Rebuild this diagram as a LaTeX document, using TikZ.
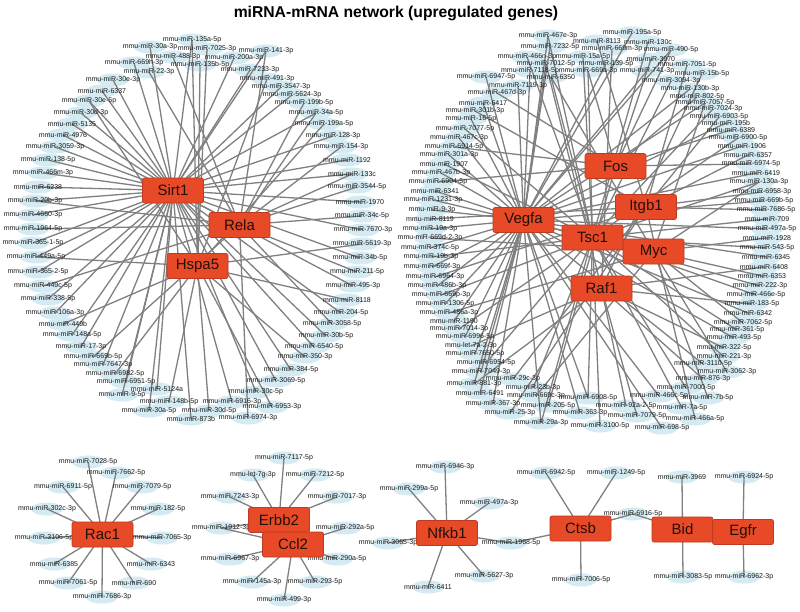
\documentclass[tikz,border=0pt]{standalone}
\usepackage{fontspec}
\setmainfont{Liberation Sans}
\pgfdeclarelayer{bg}
\pgfdeclarelayer{blobs}
\pgfdeclarelayer{edges}
\pgfsetlayers{bg,blobs,edges,main}
\definecolor{hubred}{RGB}{232,74,40}
\definecolor{edgegray}{RGB}{128,128,128}
\definecolor{blobblue}{RGB}{212,235,243}
\definecolor{labeltext}{RGB}{25,25,25}
\definecolor{hubtext}{RGB}{35,15,10}
\begin{document}
\begin{tikzpicture}[x=1pt,y=-1pt,
  mi/.style={font=\fontsize{7}{8}\selectfont, text=labeltext, inner sep=0pt},
  hub/.style={rectangle, rounded corners=2pt, fill=hubred, draw=hubred!80!black, line width=0.6pt,
    minimum width=61pt, minimum height=25pt, inner sep=0pt, font=\fontsize{15}{15}\selectfont, text=hubtext},
  edge/.style={draw=edgegray, line width=1.3pt},
  blob/.style={fill=blobblue}]
\begin{pgfonlayer}{bg}\fill[white] (0,0) rectangle (800,611);\end{pgfonlayer}
\useasboundingbox (0,0) rectangle (800,611);

\node[font=\bfseries\fontsize{15.7}{16}\selectfont, text=black] (title) at (396,13) {miRNA-mRNA network (upregulated genes)};

% ---------- miRNA labels ----------
\foreach \n/\x/\y/\t in {
L1/192/40/mmu-miR-135a-5p, L2/150/47/mmu-miR-30a-3p, L3/207/49/mmu-miR-7025-3p, L4/266/51/mmu-miR-141-3p,
L5/173/57/mmu-miR-488-3p, L6/234/58/mmu-miR-200a-3p, L7/134/63/mmu-miR-669h-3p, L8/200/65/mmu-miR-135b-5p,
L9/149/72/mmu-miR-22-3p, L10/250/70/mmu-miR-7233-3p, L11/113/80/mmu-miR-30e-3p, L12/267/79/mmu-miR-491-3p,
L13/281/87/mmu-miR-3547-3p, L14/102/91/mmu-miR-6337, L15/292/95/mmu-miR-5624-3p, L16/89/101/mmu-miR-30e-5p,
L17/304/103/mmu-miR-199b-5p, L18/81/113/mmu-miR-30d-3p, L19/316/113/mmu-miR-34a-5p, L20/72/124/mmu-miR-5135,
L21/324/124/mmu-miR-199a-5p, L22/63/135/mmu-miR-4976, L23/333/136/mmu-miR-128-3p, L24/55/147/mmu-miR-3059-3p,
L25/341/147/mmu-miR-154-3p, L26/48/160/mmu-miR-138-5p, L27/43/173/mmu-miR-466m-3p, L28/38/187/mmu-miR-6238,
L29/35/201/mmu-miR-20b-3p, L30/33/215/mmu-miR-4660-3p, L31/33/229/mmu-miR-1964-5p, L32/33/243/mmu-miR-365-1-5p,
L33/36/257/mmu-miR-449a-5p, L34/38/272/mmu-miR-365-2-5p, L35/43/286/mmu-miR-449c-5p, L36/48/299/mmu-miR-338-5p,
L37/55/313/mmu-miR-106a-3p, L38/63/324/mmu-miR-449b, L39/72/335/mmu-miR-148a-5p, L40/81/347/mmu-miR-17-3p,
L41/93/357/mmu-miR-669b-5p, L42/103/365/mmu-miR-7647-3p, L43/115/374/mmu-miR-6982-5p, L44/126/382/mmu-miR-6951-5p,
L45/122/395/mmu-miR-9-5p, L46/157/389/mmu-miR-5124a, L47/169/402/mmu-miR-148b-5p, L48/149/411/mmu-miR-30a-5p,
L49/232/402/mmu-miR-6916-3p, L50/209/411/mmu-miR-30d-5p, L51/191/419/mmu-miR-873b, L52/248/418/mmu-miR-6974-3p,
L53/256/392/mmu-miR-30c-5p, L54/272/407/mmu-miR-6953-3p, L55/276/381/mmu-miR-3069-5p, L56/347/160/mmu-miR-1192,
L57/352/174/mmu-miR-133c, L58/357/187/mmu-miR-3544-5p, L59/360/202/mmu-miR-1970, L60/362/216/mmu-miR-34c-5p,
L61/363/230/mmu-miR-7670-3p, L62/362/244/mmu-miR-5619-3p, L63/360/258/mmu-miR-34b-5p, L64/357/272/mmu-miR-211-5p,
L65/353/286/mmu-miR-495-3p, L66/347/300/mmu-miR-8118, L67/341/313/mmu-miR-204-5p, L68/332/324/mmu-miR-3058-5p,
L69/326/336/mmu-miR-30b-5p, L70/314/347/mmu-miR-6540-5p, L71/305/357/mmu-miR-350-3p, L72/291/370/mmu-miR-384-5p,
R1/548/36/mmu-miR-467e-3p, R2/550/47/mmu-miR-7232-5p, R3/527/57/mmu-miR-466n-3p, R4/546/64/mmu-miR-7012-5p,
R5/530/71/mmu-miR-7118-5p, R6/486/77/mmu-miR-6947-5p, R7/551/77/mmu-miR-6350, R8/518/86/mmu-miR-7119-3p,
R9/597/41/mmu-miR-8113, R10/632/33/mmu-miR-195a-5p, R11/648/42/mmu-miR-130c, R12/612/49/mmu-miR-669m-3p,
R13/671/50/mmu-miR-490-5p, R14/583/57/mmu-miR-15a-5p, R15/651/59/mmu-miR-3970, R16/606/64/mmu-miR-139-5p,
R17/687/65/mmu-miR-7051-5p, R18/588/71/mmu-miR-669a-3p, R19/647/71/mmu-miR-741-3p, R20/702/74/mmu-miR-15b-5p,
R21/671/81/mmu-miR-3094-3p, R22/690/89/mmu-miR-130b-3p, R23/697/97/mmu-miR-802-5p, R24/705/103/mmu-miR-7057-5p,
R25/713/109/mmu-miR-7024-3p, R26/719/117/mmu-miR-6903-5p, R27/726/123/mmu-miR-195b, R28/731/130/mmu-miR-6389,
R29/738/138/mmu-miR-6900-5p, R30/742/146/mmu-miR-1906, R31/748/155/mmu-miR-6357, R32/751/164/mmu-miR-6974-5p,
R33/756/173/mmu-miR-6419, R34/759/182/mmu-miR-130a-3p, R35/762/192/mmu-miR-6958-3p, R36/764/201/mmu-miR-669b-5p,
R37/766/210/mmu-miR-7686-5p, R38/767/219/mmu-miR-709, R39/767/229/mmu-miR-497a-5p, R40/767/238/mmu-miR-1928,
R41/767/248/mmu-miR-543-5p, R42/766/257/mmu-miR-6345, R43/764/267/mmu-miR-6408, R44/762/276/mmu-miR-6353,
R45/760/286/mmu-miR-222-3p, R46/756/295/mmu-miR-466e-5p, R47/752/304/mmu-miR-183-5p, R48/748/313/mmu-miR-6342,
R49/743/323/mmu-miR-7062-5p, R50/737/330/mmu-miR-361-5p, R51/734/338/mmu-miR-493-5p, R52/724/348/mmu-miR-322-5p,
R53/724/357/mmu-miR-221-3p, R54/703/364/mmu-miR-3110-5p, R55/727/372/mmu-miR-3062-3p, R56/703/379/mmu-miR-876-3p,
R57/686/388/mmu-miR-7000-5p, R58/659/396/mmu-miR-466c-5p, R59/708/398/mmu-miR-7b-5p, R60/588/398/mmu-miR-6908-5p,
R61/626/406/mmu-miR-92a-2-5p, R62/682/408/mmu-miR-7a-5p, R63/580/413/mmu-miR-363-3p, R64/637/416/mmu-miR-7079-5p,
R65/695/419/mmu-miR-466a-5p, R66/600/426/mmu-miR-3100-5p, R67/662/428/mmu-miR-698-5p, R68/548/406/mmu-miR-205-5p,
R69/541/423/mmu-miR-29a-3p, R70/510/413/mmu-miR-25-3p, R71/493/404/mmu-miR-367-3p, R72/536/396/mmu-miR-669c-3p,
R73/480/393/mmu-miR-6491, R74/533/388/mmu-miR-23b-3p, R75/474/384/mmu-miR-881-3p, R76/513/379/mmu-miR-29c-3p,
R77/481/372/mmu-miR-7049-3p, R78/486/363/mmu-miR-6954-5p, R79/475/354/mmu-miR-7650-5p, R80/471/346/mmu-let-7a-2-3p,
R81/465/337/mmu-miR-6996-5p, R82/459/329/mmu-miR-7014-3p, R83/454/321/mmu-miR-1190, R84/449/313/mmu-miR-486a-3p,
R85/445/304/mmu-miR-1306-5p, R86/441/295/mmu-miR-669p-3p, R87/437/286/mmu-miR-486b-3p, R88/435/277/mmu-miR-6964-3p,
R89/432/267/mmu-miR-669f-3p, R90/431/257/mmu-miR-19b-3p, R91/430/248/mmu-miR-374c-5p, R92/430/238/mmu-miR-669d-2-3p,
R93/430/229/mmu-miR-19a-3p, R94/430/219/mmu-miR-8119, R95/432/210/mmu-miR-9-3p, R96/433/200/mmu-miR-1231-3p,
R97/435/191/mmu-miR-6341, R98/438/182/mmu-miR-6904-5p, R99/441/173/mmu-miR-467b-3p, R100/444/164/mmu-miR-1907,
R101/449/155/mmu-miR-301a-3p, R102/454/147/mmu-miR-6914-5p, R103/459/138/mmu-miR-467c-3p, R104/465/129/mmu-miR-7077-5p,
R105/471/119/mmu-miR-16-5p, R106/475/111/mmu-miR-301b-3p, R107/483/103/mmu-miR-6417, R108/497/93/mmu-miR-467d-3p,
B1/88/462/mmu-miR-7028-5p, B2/116/473/mmu-miR-7662-5p, B3/63/487/mmu-miR-6911-5p, B4/142/487/mmu-miR-7079-5p,
B5/47/509/mmu-miR-302c-3p, B6/158/509/mmu-miR-182-5p, B7/44/538/mmu-miR-3106-5p, B8/162/538/mmu-miR-7065-3p,
B9/54/564/mmu-miR-6385, B10/151/564/mmu-miR-6343, B11/68/583/mmu-miR-7061-5p, B12/134/583/mmu-miR-690,
B13/102/597/mmu-miR-7686-3p,
C1/284/458/mmu-miR-7117-5p, C2/253/475/mmu-let-7g-3p, C3/315/475/mmu-miR-7212-5p, C4/230/497/mmu-miR-7243-3p,
C5/337/497/mmu-miR-7017-3p, C6/221/528/mmu-miR-1912-3p, C7/345/528/mmu-miR-292a-5p, C8/230/559/mmu-miR-6967-3p,
C9/337/559/mmu-miR-290a-5p, C10/252/582/mmu-miR-145a-3p, C11/315/582/mmu-miR-293-5p, C12/284/600/mmu-miR-499-3p,
N1/445/467/mmu-miR-6946-3p, N2/409/489/mmu-miR-299a-5p, N3/489/503/mmu-miR-497a-3p, N4/388/543/mmu-miR-3065-3p,
N5/511/543/mmu-miR-1968-5p, N6/484/576/mmu-miR-5627-3p, N7/428/587/mmu-miR-6411,
K1/546/473/mmu-miR-6942-5p, K2/616/473/mmu-miR-1249-5p, K3/633/514/mmu-miR-6916-5p, K4/581/580/mmu-miR-7006-5p,
D1/682/477/mmu-miR-3969, D2/683/577/mmu-miR-3083-5p, E1/744/477/mmu-miR-6924-5p, E2/744/577/mmu-miR-6962-3p}
{
  \begin{pgfonlayer}{blobs}\fill[blob] (\x,\y) ellipse (16pt and 6.5pt);\end{pgfonlayer}
  \node[mi] (\n) at (\x,\y) {\t};
}

% ---------- gene hubs ----------
\node[hub] (Sirt1) at (173,190.5) {Sirt1};
\node[hub] (Rela)  at (239.5,225) {Rela};
\node[hub] (Hspa5) at (197.5,266) {Hspa5};
\node[hub] (Vegfa) at (523.5,220) {Vegfa};
\node[hub] (Fos)   at (615.5,166) {Fos};
\node[hub] (Itgb1) at (646,207) {Itgb1};
\node[hub] (Tsc1)  at (592.5,237.5) {Tsc1};
\node[hub] (Myc)   at (653.5,251.5) {Myc};
\node[hub] (Raf1)  at (601.5,288.5) {Raf1};
\node[hub] (Rac1)  at (102.5,534.5) {Rac1};
\node[hub] (Erbb2) at (279,520) {Erbb2};
\node[hub] (Ccl2)  at (293,544.5) {Ccl2};
\node[hub] (Nfkb1) at (447,533) {Nfkb1};
\node[hub] (Ctsb)  at (580.5,528.5) {Ctsb};
\node[hub] (Bid)   at (682.5,529.5) {Bid};
\node[hub] (Egfr)  at (743,532) {Egfr};

% ---------- connectors ----------
\begin{pgfonlayer}{edges}
\foreach \a/\b in {
L1/Sirt1, L1/Hspa5, L2/Sirt1, L3/Hspa5, L4/Sirt1, L4/Rela, L5/Rela, L6/Sirt1, L7/Sirt1, L8/Hspa5,
L9/Rela, L10/Sirt1, L11/Sirt1, L12/Hspa5, L13/Sirt1, L14/Sirt1, L15/Sirt1, L16/Sirt1, L16/Hspa5, L17/Rela,
L18/Sirt1, L19/Sirt1, L19/Rela, L20/Sirt1, L21/Hspa5, L22/Rela, L23/Sirt1, L24/Sirt1, L25/Rela,
L26/Sirt1, L27/Sirt1, L28/Sirt1, L29/Sirt1, L29/Rela, L30/Sirt1, L31/Rela, L32/Sirt1, L33/Sirt1, L33/Hspa5,
L34/Sirt1, L35/Rela, L36/Sirt1, L37/Sirt1, L38/Hspa5, L39/Sirt1, L40/Sirt1, L41/Rela, L42/Sirt1, L43/Hspa5,
L44/Sirt1, L45/Sirt1, L46/Sirt1, L47/Hspa5, L48/Sirt1, L49/Sirt1, L50/Hspa5, L51/Sirt1, L52/Rela, L53/Sirt1,
L54/Hspa5, L55/Sirt1, L56/Sirt1, L57/Sirt1, L57/Rela, L58/Rela, L59/Sirt1, L60/Rela, L61/Sirt1, L62/Hspa5,
L63/Sirt1, L64/Rela, L65/Sirt1, L66/Hspa5, L67/Sirt1, L68/Rela, L69/Sirt1, L70/Sirt1, L71/Hspa5, L72/Sirt1,
R1/Vegfa, R1/Tsc1, R2/Vegfa, R3/Tsc1, R4/Vegfa, R4/Raf1, R5/Vegfa, R6/Vegfa, R7/Tsc1, R7/Myc, R8/Vegfa,
R9/Itgb1, R10/Vegfa, R11/Tsc1, R12/Raf1, R13/Vegfa, R13/Fos, R14/Tsc1, R15/Fos, R16/Vegfa, R17/Itgb1,
R18/Fos, R18/Tsc1, R19/Vegfa, R20/Raf1, R21/Tsc1, R22/Vegfa, R23/Fos, R24/Vegfa, R24/Myc, R25/Tsc1,
R26/Itgb1, R27/Vegfa, R28/Fos, R29/Tsc1, R30/Vegfa, R31/Itgb1, R32/Fos, R33/Vegfa, R34/Tsc1, R34/Myc,
R35/Itgb1, R36/Vegfa, R37/Itgb1, R38/Tsc1, R39/Vegfa, R40/Myc, R41/Tsc1, R42/Vegfa, R43/Raf1, R44/Myc,
R45/Vegfa, R46/Tsc1, R47/Raf1, R48/Vegfa, R49/Myc, R50/Tsc1, R51/Vegfa, R52/Raf1, R53/Tsc1, R54/Vegfa,
R55/Myc, R56/Raf1, R57/Tsc1, R58/Vegfa, R59/Myc, R60/Vegfa, R60/Tsc1, R61/Raf1, R62/Tsc1, R63/Vegfa,
R64/Raf1, R65/Itgb1, R66/Tsc1, R67/Vegfa, R68/Fos, R69/Tsc1, R69/Vegfa, R70/Itgb1, R71/Vegfa, R72/Myc,
R73/Vegfa, R74/Tsc1, R75/Vegfa, R75/Raf1, R76/Itgb1, R77/Vegfa, R78/Tsc1, R79/Vegfa, R80/Raf1, R81/Vegfa,
R82/Tsc1, R83/Vegfa, R84/Myc, R85/Vegfa, R86/Tsc1, R87/Vegfa, R88/Itgb1, R89/Vegfa, R90/Tsc1, R91/Vegfa,
R92/Myc, R93/Vegfa, R94/Itgb1, R95/Vegfa, R96/Tsc1, R97/Vegfa, R98/Fos, R99/Vegfa, R100/Tsc1, R101/Vegfa,
R102/Fos, R103/Vegfa, R104/Tsc1, R105/Vegfa, R106/Itgb1, R107/Vegfa, R108/Fos,
B1/Rac1, B2/Rac1, B3/Rac1, B4/Rac1, B5/Rac1, B6/Rac1, B7/Rac1, B8/Rac1, B9/Rac1, B10/Rac1, B11/Rac1, B12/Rac1, B13/Rac1,
C1/Erbb2, C2/Erbb2, C3/Erbb2, C4/Erbb2, C5/Erbb2, C6/Erbb2, C6/Ccl2, C7/Ccl2, C8/Ccl2, C9/Ccl2, C10/Ccl2, C11/Ccl2, C12/Ccl2,
N1/Nfkb1, N2/Nfkb1, N3/Nfkb1, N4/Nfkb1, N5/Nfkb1, N5/Ctsb, N6/Nfkb1, N7/Nfkb1,
K1/Ctsb, K2/Ctsb, K3/Ctsb, K3/Bid, K4/Ctsb, D1/Bid, D2/Bid, E1/Egfr, E2/Egfr}
  \draw[edge] (\a.center) -- (\b.center);
\end{pgfonlayer}
\end{tikzpicture}
\end{document}
